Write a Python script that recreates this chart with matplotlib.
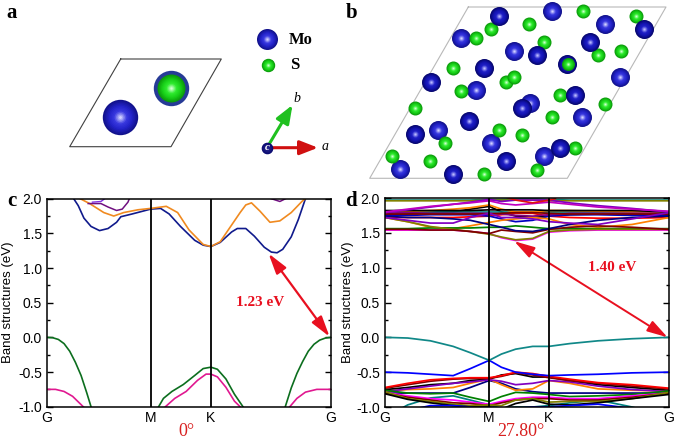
import matplotlib
matplotlib.use("Agg")
import matplotlib.pyplot as plt
from matplotlib.colors import LinearSegmentedColormap
from matplotlib.ticker import MultipleLocator

W, H = 675, 440
plt.rcParams["font.family"] = ["Liberation Sans", "DejaVu Sans"]

# --- panel c, bands (k fraction, energy) ---
c_navy_x = [.094, .11, .13, .155, .185, .215, .245, .26, .30, .365, .40, .43, .47, .52, .55, .577, .61, .65, .67, .70, .73, .765, .79, .81, .83, .86, .885, .91]
c_navy_y = [2.0, 1.9, 1.72, 1.6, 1.54, 1.57, 1.66, 1.74, 1.78, 1.85, 1.86, 1.78, 1.6, 1.4, 1.33, 1.31, 1.37, 1.52, 1.57, 1.57, 1.46, 1.3, 1.23, 1.22, 1.27, 1.45, 1.7, 2.0]
c_orange_x = [.117, .15, .2, .235, .27, .32, .365, .42, .46, .50, .55, .577, .61, .65, .68, .70, .72, .75, .785, .82, .86, .90, .91]
c_orange_y = [2.0, 1.93, 1.8, 1.75, 1.8, 1.84, 1.86, 1.89, 1.8, 1.55, 1.34, 1.31, 1.38, 1.62, 1.8, 1.91, 1.94, 1.82, 1.66, 1.68, 1.8, 1.97, 2.0]
c_purple_x = [.145, .19, .215, .245, .265, .285, .29]
c_purple_y = [1.93, 1.93, 1.88, 1.83, 1.85, 1.95, 2.0]
c_violet_x = [.16, .19, .21]
c_violet_y = [1.95, 1.96, 2.02]
c_purple2_x = [.79, .82, .84]
c_purple2_y = [2.0, 1.96, 2.0]
c_green_segments = [
    ([0, .02, .04, .06, .08, .10, .12, .14, .155], [0, -.005, -.03, -.09, -.2, -.36, -.55, -.8, -1.0]),
    ([.393, .41, .44, .48, .52, .55, .577, .60, .63, .66, .69], [-1.0, -.88, -.78, -.68, -.55, -.45, -.43, -.46, -.6, -.82, -1.0]),
    ([.839, .86, .88, .90, .92, .94, .96, .98, 1], [-1.0, -.73, -.52, -.35, -.2, -.1, -.04, -.01, 0]),
]
c_pink_segments = [
    ([0, .03, .06, .09, .12, .14], [-.75, -.75, -.78, -.85, -.97, -1.05]),
    ([.417, .45, .49, .53, .56, .577, .60, .63, .66, .68], [-1.0, -.88, -.78, -.62, -.53, -.53, -.57, -.72, -.92, -1.0]),
    ([.855, .88, .91, .95, 1], [-1.0, -.88, -.79, -.75, -.75]),
]

# --- panel d, bands on a common k grid ---
d_x = [0, .08, .16, .24, .30, .367, .41, .46, .52, .577, .65, .75, .87, 1]
d_upper = [
    ("#008080", [1.97, 1.97, 1.97, 1.97, 1.97, 1.98, 1.98, 1.99, 1.99, 1.98, 1.97, 1.97, 1.97, 1.97]),
    ("#808000", [1.96, 1.96, 1.96, 1.96, 1.96, 1.97, 1.97, 1.97, 1.97, 1.96, 1.96, 1.96, 1.96, 1.96]),
    ("#000000", [1.76, 1.77, 1.79, 1.80, 1.84, 1.88, 1.80, 1.74, 1.72, 1.74, 1.76, 1.77, 1.77, 1.76]),
    ("#ff0000", [1.72, 1.72, 1.72, 1.72, 1.73, 1.74, 1.76, 1.78, 1.78, 1.74, 1.72, 1.71, 1.71, 1.72]),
    ("#0000c0", [1.75, 1.75, 1.76, 1.76, 1.76, 1.74, 1.70, 1.66, 1.68, 1.74, 1.76, 1.76, 1.75, 1.75]),
    ("#008080", [1.80, 1.80, 1.80, 1.80, 1.80, 1.80, 1.80, 1.80, 1.80, 1.80, 1.80, 1.80, 1.80, 1.80]),
    ("#ff8000", [1.72, 1.66, 1.58, 1.56, 1.60, 1.65, 1.68, 1.70, 1.72, 1.70, 1.62, 1.58, 1.62, 1.72]),
    ("#ff8000", [1.80, 1.81, 1.82, 1.84, 1.86, 1.90, 1.84, 1.80, 1.80, 1.82, 1.82, 1.81, 1.80, 1.80]),
    ("#008000", [1.56, 1.56, 1.57, 1.57, 1.57, 1.58, 1.58, 1.60, 1.58, 1.56, 1.56, 1.56, 1.56, 1.56]),
    ("#ff00ff", [1.54, 1.54, 1.54, 1.54, 1.52, 1.49, 1.43, 1.39, 1.41, 1.51, 1.53, 1.54, 1.54, 1.54]),
    ("#808000", [1.72, 1.66, 1.59, 1.55, 1.52, 1.48, 1.44, 1.40, 1.42, 1.52, 1.54, 1.55, 1.55, 1.55]),
    ("#800000", [1.55, 1.55, 1.54, 1.54, 1.52, 1.49, 1.54, 1.52, 1.50, 1.55, 1.58, 1.60, 1.58, 1.55]),
    ("#000080", [1.74, 1.72, 1.72, 1.70, 1.68, 1.62, 1.58, 1.53, 1.52, 1.56, 1.62, 1.68, 1.72, 1.74]),
    ("#800080", [1.78, 1.79, 1.78, 1.78, 1.78, 1.78, 1.77, 1.75, 1.74, 1.76, 1.78, 1.78, 1.78, 1.78]),
    ("#000000", [1.82, 1.82, 1.82, 1.82, 1.82, 1.83, 1.83, 1.83, 1.83, 1.82, 1.82, 1.82, 1.82, 1.80]),
    ("#800000", [1.77, 1.77, 1.77, 1.77, 1.77, 1.77, 1.78, 1.79, 1.79, 1.78, 1.77, 1.77, 1.77, 1.77]),
    ("#8000c0", [1.72, 1.68, 1.64, 1.64, 1.72, 1.78, 1.72, 1.72, 1.70, 1.66, 1.64, 1.62, 1.70, 1.79]),
    ("#8000c0", [1.79, 1.83, 1.87, 1.91, 1.94, 1.98, 1.95, 1.97, 1.97, 1.97, 1.93, 1.89, 1.85, 1.80]),
    ("#c000c0", [1.80, 1.84, 1.88, 1.91, 1.93, 1.96, 1.92, 1.90, 1.92, 1.94, 1.91, 1.87, 1.84, 1.81]),
]
d_upper_top_x = [.42, .46, .52, .577, .60]
d_upper_top_y = [2.02, 1.97, 1.93, 1.97, 1.99]
d_lower = [
    ("#000080", [-.80, -.80, -.80, -.80, -.72, -.62, -.66, -.74, -.78, -.80, -.80, -.80, -.80, -.80]),
    ("#008080", [-1.15, -.97, -.87, -.84, -.90, -.97, -1.02, -1.0, -1.0, -.98, -.94, -.90, -1.0, -1.15]),
    ("#ff8000", [-.77, -.75, -.74, -.72, -.66, -.60, -.68, -.76, -.74, -.62, -.66, -.74, -.76, -.77]),
    ("#000000", [-.75, -.72, -.68, -.66, -.62, -.60, -.54, -.52, -.57, -.57, -.62, -.68, -.72, -.76]),
    ("#8000c0", [-.78, -.74, -.70, -.66, -.64, -.61, -.63, -.68, -.66, -.62, -.64, -.70, -.75, -.78]),
    ("#008000", [-.76, -.80, -.81, -.80, -.86, -.92, -.85, -.79, -.80, -.82, -.85, -.84, -.82, -.77]),
    ("#ff00ff", [-.79, -.84, -.88, -.90, -.93, -.96, -.92, -.88, -.86, -.86, -.88, -.88, -.84, -.80]),
    ("#800000", [-.80, -.86, -.90, -.94, -.95, -.98, -.94, -.90, -.88, -.88, -.90, -.90, -.86, -.80]),
    ("#808000", [-.78, -.88, -.92, -.96, -.98, -.97, -.98, -.90, -.88, -.93, -.92, -.92, -.88, -.79]),
    ("#000000", [-.81, -.89, -.94, -.98, -1.0, -1.0, -1.03, -.95, -.90, -.96, -.97, -.94, -.88, -.82]),
    ("#0000ff", [-1.1, -1.05, -.98, -.98, -1.0, -1.05, -1.1, -1.02, -1.0, -1.0, -.98, -.96, -1.02, -1.1]),
    ("#800000", [-.73, -.68, -.63, -.60, -.59, -.59, -.56, -.51, -.54, -.58, -.62, -.66, -.70, -.74]),
    ("#ff0000", [-.72, -.66, -.61, -.59, -.58, -.58, -.55, -.50, -.52, -.56, -.60, -.65, -.68, -.73]),
    ("#0000ff", [-.50, -.51, -.53, -.55, -.45, -.33, -.43, -.50, -.53, -.55, -.54, -.53, -.51, -.50]),
    ("#108888", [0, -.01, -.05, -.13, -.22, -.33, -.24, -.17, -.13, -.13, -.09, -.05, -.02, 0]),
]

k_ticks = [0, .366, .577, 1]
k_labels = ["G", "M", "K", "G"]

# --- atoms, pixel positions ---
cell_a_x = [120.7, 221.3, 171, 69.7, 120.7]
cell_a_y = [59, 59, 146.7, 146.7, 59]
cell_b_x = [468.3, 666, 567.3, 369.7, 468.3]
cell_b_y = [7, 7, 178.3, 178.3, 7]
light_mo_x = [552.3, 605.3, 460.7, 514, 620.3, 476.3, 530, 582.3, 438, 491.3, 544.3, 400]
light_mo_y = [11, 24.3, 37.7, 50.7, 77.3, 90.3, 103.3, 117, 130, 143.3, 156.3, 169.3]
dark_mo_x = [498.7, 643.7, 590.3, 536.7, 567.3, 483.7, 430.7, 575, 521.7, 468.7, 415, 559.7, 506.3, 453]
dark_mo_y = [15.7, 29, 42, 55.3, 64, 68.3, 81.7, 95, 108.3, 121.3, 134.3, 147.7, 160.7, 174]
s_x = [582.7, 635.7, 529, 491, 476, 544.3, 598, 620.7, 453, 506, 514, 460.7, 559.7, 415, 605.3, 552, 498.7, 521.7, 445.3, 575, 392.3, 430.3, 536.7, 483.7]
s_y = [11.3, 15.7, 24.3, 29, 37.7, 42, 55.3, 51, 68.3, 81.7, 77.3, 90.7, 95, 108, 103.7, 117, 130, 134.7, 143.3, 147.7, 156.3, 161, 169.7, 174]
top_s_x = [568]
top_s_y = [64]

fig = plt.figure(figsize=(W / 100, H / 100), dpi=100)


def px_axes(left, top, right, bottom):
    return fig.add_axes([left / W, 1 - bottom / H, (right - left) / W, (bottom - top) / H])


blue_ramp = LinearSegmentedColormap.from_list("b", ["#12128c", "#2222c8", "#3a3ae0", "#d0d0ff"])
dark_ramp = LinearSegmentedColormap.from_list("bd", ["#06066e", "#1414b0", "#2020c8", "#b8b8ff"])
green_ramp = LinearSegmentedColormap.from_list("g", ["#0c9a0c", "#18d018", "#30ec30", "#d0ffd0"])
ring_ramp = LinearSegmentedColormap.from_list("r", ["#263a96", "#2c44a4"])


def ball(ax, xs, ys, r, ramp, z):
    # stacked discs towards the highlight colour, one atom at a time so overlaps stay clean
    n = 12
    for j, (x0, y0) in enumerate(zip(xs, ys)):
        for i in range(n):
            f = i / (n - 1)
            rr = r * (1 - 0.92 * f)
            ax.scatter([x0], [y0], s=(2 * rr * 0.72)**2, color=ramp(f), linewidths=0,
                       zorder=z + j * 0.01 + i * 0.0005)


# overlay in pixel coordinates for the structure panels
bg = fig.add_axes([0, 0, 1, 1])
bg.set_xlim(0, W)
bg.set_ylim(H, 0)
bg.axis("off")

bg.plot(cell_a_x, cell_a_y, color="#404040", lw=0.8)
ball(bg, [120.3], [117.3], 17.7, blue_ramp, 2)
ball(bg, [171], [88], 17.7, ring_ramp, 2)
ball(bg, [171], [88], 14, green_ramp, 3)
ball(bg, [267.3], [39], 10.5, blue_ramp, 2)
ball(bg, [267.7], [64.7], 6.7, green_ramp, 2)

bg.plot(cell_b_x, cell_b_y, color="#b8b8b8", lw=0.8)
ball(bg, light_mo_x, light_mo_y, 9.5, blue_ramp, 2)
ball(bg, s_x, s_y, 7, green_ramp, 3)
ball(bg, dark_mo_x, dark_mo_y, 9.5, dark_ramp, 4)
ball(bg, top_s_x, top_s_y, 6.5, green_ramp, 5)

# a, b, c axes triad
bg.annotate("", xy=(318, 147.7), xytext=(267, 147.7), zorder=6,
            arrowprops=dict(arrowstyle="-|>,head_length=1.1,head_width=0.43", mutation_scale=10, color="#d01010", lw=2.2, shrinkA=0, shrinkB=0))
bg.annotate("", xy=(292.5, 105), xytext=(267, 147.7), zorder=6,
            arrowprops=dict(arrowstyle="-|>,head_length=1.1,head_width=0.43", mutation_scale=10, color="#20c020", lw=2.2, shrinkA=0, shrinkB=0))
ball(bg, [267.3], [147.7], 5.8, LinearSegmentedColormap.from_list("c", ["#0a0a70", "#2a2a90"]), 7)

serif = ["Liberation Serif", "DejaVu Serif"]
bg.text(267.3, 148, "c", color="white", family=serif, style="italic", weight="bold", fontsize=8, ha="center", va="center", zorder=8)
bg.text(325, 147, "a", family=serif, style="italic", fontsize=10, ha="center", va="center")
bg.text(296.5, 98, "b", family=serif, style="italic", fontsize=10, ha="center", va="center")
bg.text(289, 40, "Mo", family=serif, weight="bold", fontsize=12, va="center")
bg.text(290.5, 65, "S", family=serif, weight="bold", fontsize=12, va="center")
for lab, lx, ly in [("a", 12, 13), ("b", 352, 13), ("c", 12, 201), ("d", 350.5, 201.5)]:
    bg.text(lx, ly, lab, family=serif, weight="bold", fontsize=15, ha="center", va="center")


def band_axes(left, right, top, bottom, label_x):
    ax = px_axes(left, top, right, bottom)
    ax.patch.set_alpha(0)
    ax.set_xlim(0, 1)
    ax.set_ylim(-1, 2)
    ax.yaxis.set_major_locator(MultipleLocator(0.5))
    ax.yaxis.set_minor_locator(MultipleLocator(0.25))
    ax.set_xticks(k_ticks)
    ax.set_xticklabels(k_labels)
    ax.set_yticks([-1, -.5, 0, .5, 1, 1.5, 2])
    ax.set_yticklabels(["-1.0", "-0.5", "0.0", "0.5", "1.0", "1.5", "2.0"])
    ax.tick_params(axis="y", which="major", direction="in", right=True, length=4, width=1, labelsize=10, pad=3.6)
    ax.tick_params(axis="y", which="minor", direction="in", right=True, length=2.5, width=1)
    ax.tick_params(axis="x", direction="in", length=0, labelsize=10, pad=3)
    ax.set_ylabel("Band structures (eV)", fontsize=9.5)
    ax.yaxis.set_label_coords(label_x, 0.5)
    for s in ax.spines.values():
        s.set_linewidth(1.1)
    for k in k_ticks[1:3]:
        ax.axvline(k, color="black", lw=1.3, zorder=5)
    return ax


# --- panel c ---
ax_c = band_axes(47, 331, 198.7, 406.7, -0.115)
ax_c.plot(c_navy_x, c_navy_y, color="#101a8c", lw=1.2)
ax_c.plot(c_orange_x, c_orange_y, color="#f08a20", lw=1.2)
ax_c.plot(c_purple_x, c_purple_y, color="#701080", lw=1.1)
ax_c.plot(c_violet_x, c_violet_y, color="#8030e0", lw=1.0)
ax_c.plot(c_purple2_x, c_purple2_y, color="#701080", lw=1.1)
for sx, sy in c_green_segments:
    ax_c.plot(sx, sy, color="#0c6e1e", lw=1.2)
for sx, sy in c_pink_segments:
    ax_c.plot(sx, sy, color="#e01890", lw=1.2)
ax_c.annotate("", xy=(.78, 1.21), xytext=(.995, 0.01),
              arrowprops=dict(arrowstyle="<|-|>,head_length=1.25,head_width=0.36", mutation_scale=10, color="#e81020", lw=1.6, shrinkA=0, shrinkB=0))
ax_c.text(.75, 0.51, "1.23 eV", color="#e81020", family=serif, weight="bold", fontsize=11, ha="center", va="center")
ax_c.set_xlabel("0°", color="#d82020", family=serif, fontsize=13, labelpad=-1.5, x=0.492)

# --- panel d ---
ax_d = band_axes(385, 669, 198, 407, -0.11)
for col, vals in d_upper + d_lower:
    ax_d.plot(d_x, vals, color=col, lw=1.25)
ax_d.plot(d_upper_top_x, d_upper_top_y, color="#e01010", lw=1.25)
ax_d.annotate("", xy=(.455, 1.38), xytext=(.995, 0.0),
              arrowprops=dict(arrowstyle="<|-|>,head_length=1.25,head_width=0.36", mutation_scale=10, color="#e81020", lw=1.4, shrinkA=0, shrinkB=0))
ax_d.text(.80, 1.0, "1.40 eV", color="#e81020", family=serif, weight="bold", fontsize=11, ha="center", va="center")
ax_d.set_xlabel("27.80°", color="#d82020", family=serif, fontsize=13, labelpad=-1.5, x=0.48)

fig.savefig("out.png", dpi=100)
